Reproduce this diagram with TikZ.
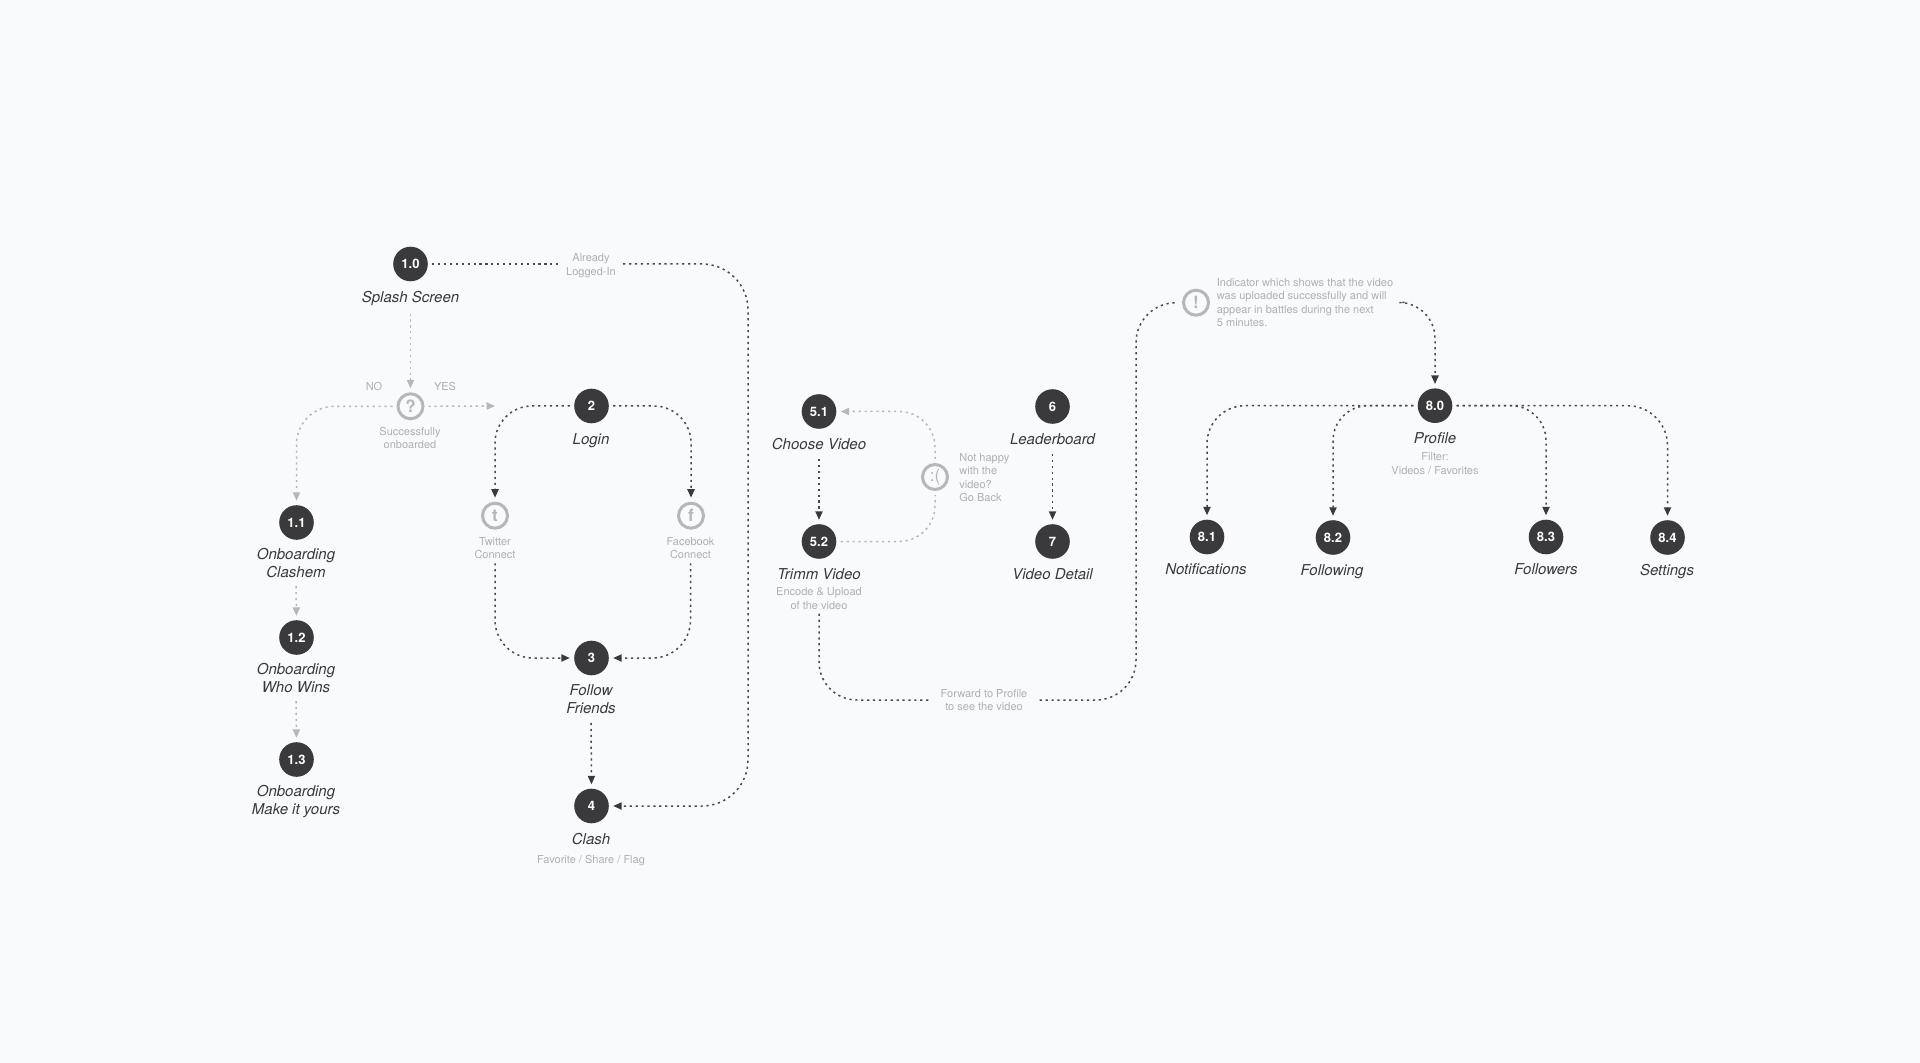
\documentclass[tikz,border=0pt]{standalone}
\usepackage{fontspec}
\setmainfont{TeX Gyre Heros}
\usetikzlibrary{arrows.meta,calc}
\definecolor{bgc}{HTML}{F9FAFB}
\definecolor{darkc}{HTML}{3A3A3C}
\definecolor{linec}{HTML}{4A4A4C}
\definecolor{greyc}{HTML}{AEB0B4}
\definecolor{ringc}{HTML}{B6B7BA}
\tikzset{
  num/.style={circle,fill=darkc,text=white,minimum size=17.3pt,inner sep=0pt,font=\fontsize{6.5}{7}\selectfont\bfseries},
  ringnode/.style={circle,draw=ringc,line width=1.5pt,minimum size=12.5pt,inner sep=0pt,text=ringc,font=\fontsize{8.5}{9}\selectfont\bfseries},
  title/.style={inner sep=0pt,align=center,text=darkc,font=\fontsize{7.5}{9}\selectfont\itshape},
  note/.style={inner sep=0pt,align=center,text=greyc,font=\fontsize{5.5}{6.75}\selectfont},
  noteleft/.style={note,align=left,anchor=west},
  flow/.style={line width=0.75pt,dash pattern=on 1.1pt off 1.85pt,shorten <=2pt,shorten >=2pt,-{Triangle[length=4.25pt,width=3.6pt]}},
  darkflow/.style={flow,draw=linec,-{Triangle[length=4.25pt,width=3.6pt,color=darkc]}},
  greyflow/.style={flow,draw=ringc,-{Triangle[length=4.25pt,width=3.6pt,color=ringc]}},
  darkline/.style={darkflow,-},
  greyline/.style={greyflow,-}
}
\begin{document}
\begin{tikzpicture}[x=0.5pt,y=-0.5pt]
\fill[bgc] (0,0) rectangle (1920,1063);
\useasboundingbox (0,0) rectangle (1920,1063);
% helper coordinates
\coordinate (yesend) at (499,406);
\coordinate (railA) at (748,264);
\coordinate (railB) at (1136,500);
% numbered nodes
\node[num] (n10) at (410.5,264) {1.0};
\node[num] (n11) at (296.5,522.5) {1.1};
\node[num] (n12) at (296.5,637.5) {1.2};
\node[num] (n13) at (296.5,759.5) {1.3};
\node[num] (n2) at (591.5,406) {2};
\node[num] (n3) at (591.5,658) {3};
\node[num] (n4) at (591.5,806) {4};
\node[num] (n51) at (819,411.5) {5.1};
\node[num] (n52) at (819,541.5) {5.2};
\node[num] (n6) at (1052.5,406.5) {6};
\node[num] (n7) at (1052.5,541.5) {7};
\node[num] (n90) at (1435,405.7) {8.0};
\node[num] (n81) at (1207,537) {8.1};
\node[num] (n82) at (1333,537.5) {8.2};
\node[num] (n83) at (1546,537) {8.3};
\node[num] (n84) at (1667.5,537.5) {8.4};
% ring nodes
\node[ringnode] (q) at (410.5,406.3) {?};
\node[ringnode] (tw) at (495,515.7) {t};
\node[ringnode] (fb) at (691,515.7) {f};
\node[ringnode,font=\fontsize{8.5}{9}\selectfont] (sad) at (935,477) {:(};
\node[ringnode] (ex) at (1196,302.7) {!};
% titles
\node[title] (lsplash) at (410.5,298) {Splash Screen};
\node[title] (llogin) at (591,440.5) {Login};
\node[title] (l11) at (296,563) {Onboarding\\Clashem};
\node[title] (l12) at (296,678) {Onboarding\\Who Wins};
\node[title] (l13) at (296,801.5) {Onboarding\\Make it yours};
\node[title] (l3) at (591,699) {Follow\\Friends};
\node[title] (l4) at (591,839) {Clash};
\node[title] (l51) at (819,444) {Choose Video};
\node[title] (l52) at (819,574) {Trimm Video};
\node[title] (l6) at (1052.5,439) {Leaderboard};
\node[title] (l7) at (1052.5,574) {Video Detail};
\node[title] (l90) at (1435,438) {Profile};
\node[title] (l81) at (1206,569) {Notifications};
\node[title] (l82) at (1332,572) {Following};
\node[title] (l83) at (1546,569) {Followers};
\node[title] (l84) at (1667,571.5) {Settings};
% notes
\node[note] (already) at (591,265.5) {Already\\Logged-In};
\node[note] (no) at (374,386) {NO};
\node[note] (yes) at (445,386) {YES};
\node[note] (succ) at (410,438) {Successfully\\onboarded};
\node[note] (twl) at (495,548) {Twitter\\Connect};
\node[note] (fbl) at (690.5,548) {Facebook\\Connect};
\node[note] (favs) at (591,860.5) {Favorite / Share / Flag};
\node[note] (enc) at (819,598.5) {Encode \& Upload\\of the video};
\node[noteleft] (sadl) at (959,477.5) {Not happy\\with the\\video?\\Go Back};
\node[note] (fwd) at (984,700) {Forward to Profile\\to see the video};
\node[noteleft] (ind) at (1216.5,302.5) {Indicator which shows that the video\\was uploaded successfully and will\\appear in battles during the next\\5 minutes.};
\node[note] (filt) at (1435,463.5) {Filter:\\Videos / Favorites};
% grey connectors
\draw[greyflow] ($(lsplash.south)+(0,4)$) -- (q.north);
\draw[greyflow,rounded corners=19pt] (q.west) -- (q.west -| n11.north) -- (n11.north);
\draw[greyflow] (q.east) -- (yesend);
\draw[greyflow] ($(l11.south)+(0,4)$) -- (n12.north);
\draw[greyflow] ($(l12.south)+(0,4)$) -- (n13.north);
\draw[greyline,rounded corners=18pt] (n52.east) -- (n52.east -| sad.south) -- (sad.south);
\draw[greyflow,rounded corners=18pt] (sad.north) -- (sad.north |- n51.east) -- (n51.east);
% dark connectors
\draw[darkline,shorten >=4pt] (n10.east) -- (n10.east -| already.west);
\draw[darkflow,rounded corners=23pt,shorten <=3.5pt] (already.east |- n10.east) -- (railA) -- (railA |- n4.east) -- (n4.east);
\draw[darkflow,rounded corners=18.5pt] (n2.west) -- (n2.west -| tw.north) -- (tw.north);
\draw[darkflow,rounded corners=18.5pt] (n2.east) -- (n2.east -| fb.north) -- (fb.north);
\draw[darkflow,rounded corners=19pt] (twl.south) -- (twl.south |- n3.west) -- (n3.west);
\draw[darkflow,rounded corners=19pt] (fbl.south) -- (fbl.south |- n3.east) -- (n3.east);
\draw[darkflow] ($(l3.south)+(0,5)$) -- (n4.north);
\draw[darkflow] ($(l51.south)+(0,5)$) -- (n52.north);
\draw[darkflow] ($(l6.south)+(0,5)$) -- (n7.north);
\draw[darkline,rounded corners=19pt,shorten >=4.5pt] (enc.south) -- (enc.south |- fwd.west) -- (fwd.west);
\draw[darkline,rounded corners=20pt,shorten <=6pt] (fwd.east) -- (fwd.east -| railB) -- (railB |- ex.west) -- (ex.west);
\draw[darkflow,rounded corners=18pt,shorten <=5.5pt] (ind.east) -- (ind.east -| n90.north) -- (n90.north);
\draw[darkflow,rounded corners=19pt] (n90.west) -- (n90.west -| n81.north) -- (n81.north);
\draw[darkflow,rounded corners=17.5pt] (n90.west) -- (n90.west -| n82.north) -- (n82.north);
\draw[darkflow,rounded corners=17.5pt] (n90.east) -- (n90.east -| n83.north) -- (n83.north);
\draw[darkflow,rounded corners=20pt] (n90.east) -- (n90.east -| n84.north) -- (n84.north);
\end{tikzpicture}
\end{document}
